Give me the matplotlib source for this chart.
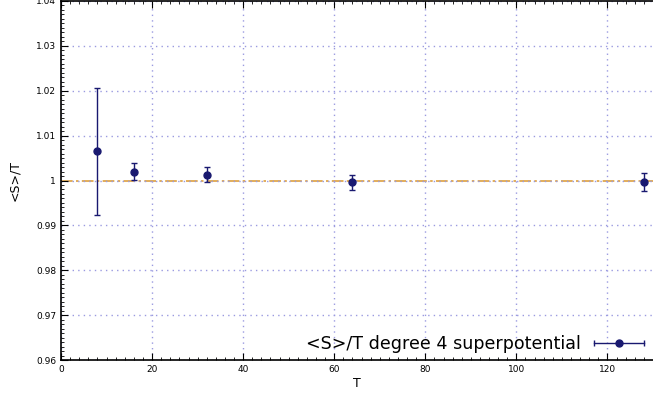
import matplotlib
matplotlib.use("Agg")
import matplotlib.pyplot as plt
from matplotlib.legend_handler import HandlerBase
from matplotlib.lines import Line2D
from matplotlib.ticker import MultipleLocator, FormatStrFormatter

# data
T = [8, 16, 32, 64, 128]
S_over_T = [1.0065, 1.0020, 1.0013, 0.9996, 0.9996]
err = [0.0142, 0.0018, 0.0016, 0.0017, 0.0020]
REF = 1.0
LABEL = "<S>/T degree 4 superpotential"

NAVY = "#191970"
GOLD = "#dda040"
GRID = "#9a9ae0"


class HBarHandler(HandlerBase):
    # gnuplot-style key sample: horizontal bar with caps and a dot in the middle
    def create_artists(self, legend, orig, xd, yd, w, h, fs, trans):
        y = h / 2 - yd
        x0, x1 = -xd, -xd + w
        bar = Line2D([x0, x1], [y, y], color=NAVY, lw=1, transform=trans)
        caps = Line2D([x0, x1], [y, y], ls="none", marker="|", ms=5,
                      mew=1, color=NAVY, transform=trans)
        dot = Line2D([(x0 + x1) / 2], [y], ls="none", marker="o", ms=5,
                     color=NAVY, transform=trans)
        return [bar, caps, dot]


fig = plt.figure(figsize=(6.53, 4.04), dpi=100)
ax = fig.add_axes([61 / 653, 44 / 404, 1 - 61 / 653, 359 / 404])

ax.axhline(REF, color=GOLD, lw=1.2, ls=(0, (7, 2, 1.5, 2)), zorder=1)
eb = ax.errorbar(T, S_over_T, yerr=err, fmt="o", color=NAVY, ms=5,
                 ecolor=NAVY, elinewidth=1, capsize=2.5, capthick=1, zorder=3)

ax.set_xlim(0, 130)
ax.set_ylim(0.96, 1.04)
ax.xaxis.set_major_locator(MultipleLocator(20))
ax.xaxis.set_minor_locator(MultipleLocator(2))
ax.yaxis.set_major_locator(MultipleLocator(0.01))
ax.yaxis.set_minor_locator(MultipleLocator(0.001))
ax.yaxis.set_major_formatter(FormatStrFormatter("%g"))
ax.tick_params(which="both", direction="in", top=True, right=False, labelsize=6.5)
ax.tick_params(which="major", length=5, width=0.8)
ax.tick_params(which="minor", length=2.5, width=0.6)
ax.grid(True, which="major", color=GRID, ls=(0, (1, 3)), lw=1)
for s in ax.spines.values():
    s.set_linewidth(1.2)
ax.spines["right"].set_visible(False)

ax.set_xlabel("T", fontsize=9, labelpad=2)
ax.set_ylabel("<S>/T", fontsize=9, labelpad=11)

ax.legend([eb], [LABEL], handler_map={type(eb): HBarHandler()},
          loc="lower right", bbox_to_anchor=(1.006, -0.016), frameon=False,
          fontsize=12.6, markerfirst=False, handlelength=2.86, handletextpad=0.75,
          borderaxespad=0.3)

fig.savefig("out.png", dpi=100)
